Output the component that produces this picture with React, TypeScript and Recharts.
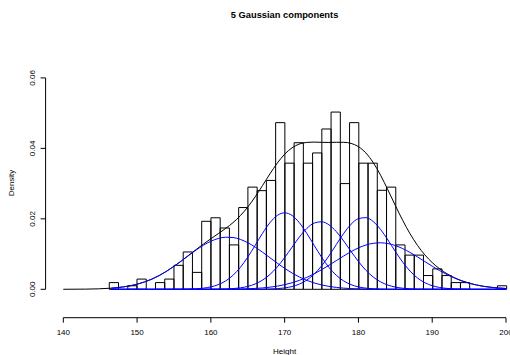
import React from 'react';
import { ComposedChart, Line, XAxis, YAxis, ReferenceArea, ReferenceLine } from 'recharts';

// histogram: 43 bins of equal width
const binStart = 146.23;
const binWidth = 1.2526;
const binDensity = [
  0.0019, 0, 0.001, 0.0029, 0, 0.0019, 0.0029, 0.0068, 0.0106, 0.0048,
  0.0193, 0.0203, 0.0174, 0.0126, 0.0232, 0.029, 0.028, 0.0309, 0.0473, 0.0358,
  0.0416, 0.0358, 0.0387, 0.0455, 0.0503, 0.03, 0.0473, 0.0358, 0.0358, 0.0281,
  0.029, 0.0126, 0.0097, 0.0097, 0.0039, 0.0058, 0.0039, 0.0019, 0.0019, 0,
  0, 0, 0.001,
];

// sample points of the fitted curves
const curveX = [
  140, 143, 146.5,
  147, 148, 149, 150, 151, 152, 153, 154, 155, 156,
  157, 158, 159, 160, 161, 162, 163, 164, 165, 166,
  167, 168, 169, 170, 171, 172, 173, 174, 175, 176,
  177, 178, 179, 180, 181, 182, 183, 184, 185, 186,
  187, 188, 189, 190, 191, 192, 193, 194, 195, 196,
  197, 198, 199, 200,
];

const mixture = [
  0.00001, 0.00005, 0.00032,
  0.0004, 0.00064, 0.00097, 0.00144, 0.00208, 0.00289, 0.00391, 0.00513, 0.00653, 0.00805,
  0.00967, 0.01129, 0.01285, 0.01434, 0.01579, 0.01727, 0.01892, 0.02091, 0.02334, 0.02623,
  0.02944, 0.03275, 0.03581, 0.03834, 0.04015, 0.04123, 0.04169, 0.04178, 0.04171, 0.04168,
  0.04173, 0.04172, 0.04141, 0.04049, 0.03872, 0.03597, 0.03238, 0.02819, 0.0238, 0.01957,
  0.01576, 0.01248, 0.00977, 0.00759, 0.00582, 0.00442, 0.00331, 0.00243, 0.00175, 0.00122,
  0.00083, 0.00056, 0.00036, 0.00023,
];

const comp1 = [
  null, null, 0.00032,
  0.0004, 0.00064, 0.00097, 0.00144, 0.00208, 0.00289, 0.00391, 0.00513, 0.00652, 0.00803,
  0.00961, 0.01114, 0.01252, 0.01364, 0.01442, 0.01478, 0.01469, 0.01416, 0.01323, 0.01199,
  0.01053, 0.00898, 0.00742, 0.00594, 0.00462, 0.00348, 0.00254, 0.0018, 0.00124, 0.00083,
  0.00053, 0.00033, 0.0002, 0.00012, 0.00007, 0.00004, 0.00002, 0.00001, 0, 0,
  0, 0, 0, 0, 0, 0, 0, 0, 0, 0,
  0, 0, 0, 0,
];

const comp2 = [
  null, null, 0,
  0, 0, 0, 0, 0, 0, 0, 0, 0.00001, 0.00002,
  0.00006, 0.00015, 0.00033, 0.00068, 0.00132, 0.00237, 0.00398, 0.00624, 0.00913, 0.01247,
  0.01589, 0.01889, 0.02096, 0.0217, 0.02096, 0.01889, 0.01589, 0.01247, 0.00913, 0.00624,
  0.00398, 0.00237, 0.00132, 0.00068, 0.00033, 0.00015, 0.00006, 0.00002, 0.00001, 0,
  0, 0, 0, 0, 0, 0, 0, 0, 0, 0,
  0, 0, 0, 0,
];

const comp3 = [
  null, null, 0,
  0, 0, 0, 0, 0, 0, 0, 0, 0, 0,
  0, 0, 0, 0.00001, 0.00004, 0.00009, 0.0002, 0.00042, 0.00082, 0.00151,
  0.0026, 0.0042, 0.00635, 0.009, 0.01194, 0.01484, 0.01726, 0.0188, 0.01917, 0.01831,
  0.01638, 0.01371, 0.01075, 0.00789, 0.00543, 0.00349, 0.00211, 0.00119, 0.00063, 0.00031,
  0.00014, 0.00006, 0.00003, 0.00001, 0, 0, 0, 0, 0, 0,
  0, 0, 0, 0,
];

const comp4 = [
  null, null, 0,
  0, 0, 0, 0, 0, 0, 0, 0, 0, 0,
  0, 0, 0, 0, 0, 0, 0, 0, 0, 0.00001,
  0.00003, 0.00008, 0.00018, 0.00039, 0.00079, 0.00148, 0.00262, 0.00431, 0.00662, 0.00949,
  0.0127, 0.01585, 0.01846, 0.02006, 0.02034, 0.01924, 0.01699, 0.01399, 0.01075, 0.00771,
  0.00516, 0.00322, 0.00188, 0.00102, 0.00052, 0.00025, 0.00011, 0.00005, 0.00002, 0.00001,
  0, 0, 0, 0,
];

const comp5 = [
  null, null, 0,
  0, 0, 0, 0, 0, 0, 0, 0, 0, 0,
  0, 0, 0, 0.00001, 0.00002, 0.00003, 0.00005, 0.00009, 0.00015, 0.00025,
  0.00039, 0.0006, 0.0009, 0.00131, 0.00185, 0.00254, 0.00338, 0.00439, 0.00555, 0.00681,
  0.00814, 0.00946, 0.01069, 0.01175, 0.01256, 0.01305, 0.0132, 0.01298, 0.01242, 0.01155,
  0.01045, 0.0092, 0.00787, 0.00656, 0.00531, 0.00418, 0.0032, 0.00238, 0.00173, 0.00122,
  0.00083, 0.00056, 0.00036, 0.00023,
];

const xTicks = [140, 150, 160, 170, 180, 190, 200];
const yTicks = [0, 0.02, 0.04, 0.06];

const X_DOMAIN: [number, number] = [137.6, 202.4];
const Y_DOMAIN: [number, number] = [-0.00806, 0.0684];
const FONT = '"Liberation Sans", Arial, Helvetica, sans-serif';

const rows = curveX.map((x, i) => ({
  x,
  mix: mixture[i],
  c1: comp1[i],
  c2: comp2[i],
  c3: comp3[i],
  c4: comp4[i],
  c5: comp5[i],
}));

const bins = binDensity
  .map((d, i) => ({ x1: binStart + i * binWidth, x2: binStart + (i + 1) * binWidth, d }))
  .filter((b) => b.d > 0);

const components = ['c1', 'c2', 'c3', 'c4', 'c5'];

function YTick(props: any) {
  const { x, y, payload } = props;
  return (
    <text
      x={x}
      y={y}
      transform={`rotate(-90 ${x} ${y})`}
      textAnchor="middle"
      fontSize={8}
      fontFamily={FONT}
      fill="#000"
    >
      {Number(payload.value).toFixed(2)}
    </text>
  );
}

export default function App() {
  return (
    <div style={{ position: 'absolute', left: 0, top: 0, width: 510, height: 355, overflow: 'hidden', background: '#fff' }}>
      <ComposedChart
        width={530}
        height={355}
        data={rows}
        margin={{ top: 48.3, right: 6.3, bottom: 7.3, left: 5.6 }}
      >
        <XAxis
          dataKey="x"
          type="number"
          domain={X_DOMAIN}
          allowDataOverflow
          ticks={xTicks}
          interval={0}
          height={30}
          axisLine={false}
          tickLine={{ stroke: '#000' }}
          tickSize={5}
          tickMargin={7}
          tick={{ fill: '#000', fontSize: 8, fontFamily: FONT }}
        />
        <YAxis
          type="number"
          domain={Y_DOMAIN}
          allowDataOverflow
          ticks={yTicks}
          interval={0}
          width={40}
          axisLine={false}
          tickLine={{ stroke: '#000' }}
          tickSize={5}
          tickMargin={6}
          tick={<YTick />}
        />
        {bins.map((b, i) => (
          <ReferenceArea
            key={i}
            x1={b.x1}
            x2={b.x2}
            y1={0}
            y2={b.d}
            fill="none"
            fillOpacity={0}
            stroke="#000"
            strokeWidth={1}
            strokeOpacity={1}
            ifOverflow="visible"
          />
        ))}
        <ReferenceLine
          segment={[{ x: 140, y: Y_DOMAIN[0] }, { x: 200, y: Y_DOMAIN[0] }]}
          stroke="#000"
          ifOverflow="visible"
        />
        <ReferenceLine
          segment={[{ x: X_DOMAIN[0], y: 0 }, { x: X_DOMAIN[0], y: 0.06 }]}
          stroke="#000"
          ifOverflow="visible"
        />
        <Line
          dataKey="mix"
          type="monotone"
          stroke="#000"
          strokeWidth={1}
          dot={false}
          isAnimationActive={false}
        />
        {components.map((k) => (
          <Line
            key={k}
            dataKey={k}
            type="monotone"
            stroke="#0000ff"
            strokeWidth={1}
            dot={false}
            isAnimationActive={false}
          />
        ))}
      </ComposedChart>
      <svg width={510} height={355} style={{ position: 'absolute', left: 0, top: 0, pointerEvents: 'none' }}>
        <text x={284.6} y={18} textAnchor="middle" fontSize={9.3} fontWeight="bold" fontFamily={FONT} fill="#000">
          5 Gaussian components
        </text>
        <text x={284.6} y={354} textAnchor="middle" fontSize={8} fontFamily={FONT} fill="#000">
          Height
        </text>
        <text
          x={14}
          y={183}
          transform="rotate(-90 14 183)"
          textAnchor="middle"
          fontSize={8}
          fontFamily={FONT}
          fill="#000"
        >
          Density
        </text>
      </svg>
    </div>
  );
}
